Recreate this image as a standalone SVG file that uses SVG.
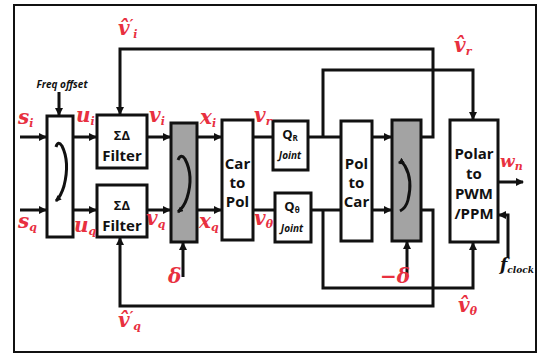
<svg xmlns="http://www.w3.org/2000/svg" width="541" height="356" viewBox="0 0 541 356">
<style>
.bx{fill:#fff;stroke:#111;stroke-width:3}
.gr{fill:#a3a3a3;stroke:#111;stroke-width:3}
.ln{fill:none;stroke:#111;stroke-width:3}
.t{font-family:"Open Sans","Liberation Sans",sans-serif;font-weight:bold;fill:#111;text-anchor:middle}
.m{font-family:"DejaVu Serif","Liberation Serif",serif;font-style:italic;font-weight:bold;fill:#e8303f}
.s{font-size:11px}
</style>
<defs>
<marker id="ah" markerWidth="8" markerHeight="8" refX="7" refY="4" orient="auto" markerUnits="userSpaceOnUse">
<path d="M0,0 L8,4 L0,8 Z" fill="#111"/>
</marker>
<marker id="ahs" markerWidth="6" markerHeight="6" refX="5" refY="3" orient="auto" markerUnits="userSpaceOnUse">
<path d="M0,0 L6,3 L0,6 Z" fill="#111"/>
</marker>
</defs>
<rect x="0" y="0" width="541" height="356" fill="#fff"/>
<rect x="14" y="5" width="522" height="347" fill="none" stroke="#111" stroke-width="2"/>

<g id="connectors">
<line class="ln" x1="20" y1="137" x2="46" y2="137" marker-end="url(#ah)"/>
<line class="ln" x1="73" y1="137" x2="96" y2="137" marker-end="url(#ah)"/>
<line class="ln" x1="147" y1="137" x2="170" y2="137" marker-end="url(#ah)"/>
<line class="ln" x1="197" y1="137" x2="221" y2="137" marker-end="url(#ah)"/>
<line class="ln" x1="253" y1="137" x2="273" y2="137"/>
<line class="ln" x1="308" y1="137" x2="341" y2="137"/>
<line class="ln" x1="372" y1="137" x2="391" y2="137" marker-end="url(#ah)"/>
<line class="ln" x1="20" y1="210" x2="46" y2="210" marker-end="url(#ah)"/>
<line class="ln" x1="73" y1="210" x2="96" y2="210" marker-end="url(#ah)"/>
<line class="ln" x1="147" y1="210" x2="170" y2="210" marker-end="url(#ah)"/>
<line class="ln" x1="197" y1="210" x2="221" y2="210" marker-end="url(#ah)"/>
<line class="ln" x1="253" y1="210" x2="275" y2="210"/>
<line class="ln" x1="311" y1="210" x2="341" y2="210"/>
<line class="ln" x1="372" y1="210" x2="391" y2="210" marker-end="url(#ah)"/>
<line class="ln" x1="59" y1="92" x2="59" y2="115" marker-end="url(#ah)"/>
<polyline class="ln" points="421,137 433,137 433,49 120,49 120,114" marker-end="url(#ah)"/>
<polyline class="ln" points="421,210 433,210 433,306 120,306 120,238" marker-end="url(#ah)"/>
<polyline class="ln" points="323,137 323,70 473,70 473,119" marker-end="url(#ah)"/>
<polyline class="ln" points="323,210 323,288 473,288 473,243" marker-end="url(#ah)"/>
<line class="ln" x1="183" y1="277" x2="183" y2="243" marker-end="url(#ah)"/>
<line class="ln" x1="407" y1="277" x2="407" y2="242" marker-end="url(#ah)"/>
<line class="ln" x1="498" y1="182" x2="523" y2="182" marker-end="url(#ah)"/>
<polyline class="ln" points="508,257 508,215 499,215" marker-end="url(#ah)"/>
</g>

<g id="rot-in">
<rect class="bx" x="47" y="116" width="26" height="121"/>
<path class="ln" d="M56,147 Q58,140 62,146 Q70,162 64,186 Q61,196 56,201" marker-end="url(#ahs)"/>
</g>
<g id="sd-i">
<rect class="bx" x="97" y="115" width="50" height="53"/>
<text class="t" x="122" y="140" font-size="13">ΣΔ</text>
<text class="t" x="122" y="161" font-size="15">Filter</text>
</g>
<g id="sd-q">
<rect class="bx" x="97" y="185" width="50" height="52"/>
<text class="t" x="122" y="210" font-size="13">ΣΔ</text>
<text class="t" x="122" y="231" font-size="15">Filter</text>
</g>
<g id="rot-1">
<rect class="gr" x="171" y="123" width="26" height="119"/>
<path class="ln" d="M178,160 Q181,153 185,159 Q194,176 187,198 Q184,207 178,212" marker-end="url(#ahs)"/>
</g>
<g id="car2pol">
<rect class="bx" x="222" y="120" width="31" height="120"/>
<text class="t" x="237.5" y="169" font-size="15">Car</text>
<text class="t" x="237.5" y="188" font-size="15">to</text>
<text class="t" x="237.5" y="207" font-size="15">Pol</text>
</g>
<g id="qr">
<rect class="bx" x="273" y="121" width="35" height="49"/>
<text class="t" x="290" y="139" font-size="13">Q<tspan font-size="8" dy="2">R</tspan></text>
<text class="t" x="290" y="159" font-size="10" font-style="italic">Joint</text>
</g>
<g id="qt">
<rect class="bx" x="275" y="193" width="36" height="49"/>
<text class="t" x="292" y="211" font-size="13">Q<tspan font-size="8" dy="2">θ</tspan></text>
<text class="t" x="292" y="232" font-size="10" font-style="italic">Joint</text>
</g>
<g id="pol2car">
<rect class="bx" x="341" y="121" width="31" height="120"/>
<text class="t" x="356.5" y="169" font-size="15">Pol</text>
<text class="t" x="356.5" y="188" font-size="15">to</text>
<text class="t" x="356.5" y="207" font-size="15">Car</text>
</g>
<g id="rot-2">
<rect class="gr" x="392" y="120" width="29" height="121"/>
<path class="ln" d="M400,211 Q406,208 408,200 Q413,180 405,166 Q402,161 399,163" marker-end="url(#ahs)"/>
</g>
<g id="polar">
<rect class="bx" x="450" y="120" width="48" height="122"/>
<text class="t" x="474" y="159" font-size="15">Polar</text>
<text class="t" x="474" y="179" font-size="15">to</text>
<text class="t" x="474" y="199" font-size="15">PWM</text>
<text class="t" x="474" y="219" font-size="15">/PPM</text>
</g>

<g id="labels">
<text class="t" x="62" y="88" font-size="10" font-style="italic">Freq offset</text>
<text class="m" x="18" y="124" font-size="20">s<tspan class="s" dy="3">i</tspan></text>
<text class="m" x="76" y="122" font-size="20">u<tspan class="s" dy="3">i</tspan></text>
<text class="m" x="149" y="122" font-size="20">v<tspan class="s" dy="3">i</tspan></text>
<text class="m" x="200" y="124" font-size="20">x<tspan class="s" dy="3">i</tspan></text>
<text class="m" x="254" y="122" font-size="20">v<tspan class="s" dy="3">r</tspan></text>
<text class="m" x="18" y="228" font-size="20">s<tspan class="s" dy="3">q</tspan></text>
<text class="m" x="74" y="232" font-size="20">u<tspan class="s" dy="3">q</tspan></text>
<text class="m" x="146" y="225" font-size="20">v<tspan class="s" dy="3">q</tspan></text>
<text class="m" x="199" y="228" font-size="20">x<tspan class="s" dy="3">q</tspan></text>
<text class="m" x="254" y="225" font-size="20">v<tspan class="s" dy="3">θ</tspan></text>
<text class="m" x="118" y="35" font-size="20">v̂<tspan font-size="14" dy="-5">′</tspan><tspan class="s" dy="8">i</tspan></text>
<text class="m" x="118" y="327" font-size="20">v̂<tspan font-size="14" dy="-5">′</tspan><tspan class="s" dy="8">q</tspan></text>
<text class="m" x="454" y="52" font-size="20">v̂<tspan class="s" dy="3">r</tspan></text>
<text class="m" x="458" y="312" font-size="20">v̂<tspan class="s" dy="3">θ</tspan></text>
<text class="m" x="168" y="283" font-size="20">δ</text>
<text class="m" x="380" y="283" font-size="20">−δ</text>
<text class="m" x="500" y="167" font-size="17">w<tspan class="s" dy="3">n</tspan></text>
<text x="500" y="270" font-family="'DejaVu Serif',serif" font-style="italic" font-weight="bold" font-size="17" fill="#111">f<tspan font-size="9" dy="3">clock</tspan></text>
</g>
</svg>
